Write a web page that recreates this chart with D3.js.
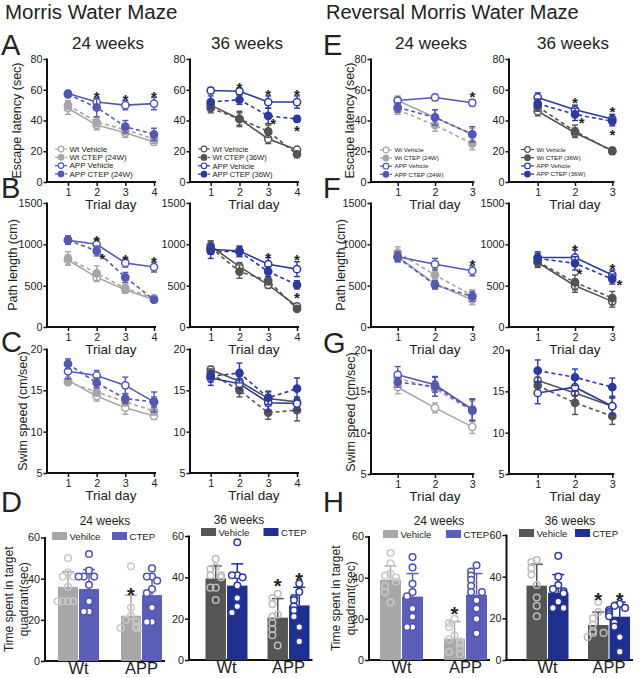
<!DOCTYPE html>
<html><head><meta charset="utf-8">
<script src="https://cdn.jsdelivr.net/npm/d3@7"></script>
<style>
body{margin:0;background:#fff}
svg{display:block}
text{font-family:"Liberation Sans",Arial,Helvetica,sans-serif;fill:#222}
</style>
</head><body>
<svg id="chart" width="641" height="678"></svg>
<script>
// ---------------- DATA ----------------
const days4 = [1, 2, 3, 4];
const days3 = [1, 2, 3];
const names24 = ["Wt Vehicle", "Wt CTEP (24W)", "APP Vehicle", "APP CTEP (24W)"];
const names36 = ["Wt Vehicle", "Wt CTEP (36W)", "APP Vehicle", "APP CTEP (36W)"];
const latencyTicks = [0, 20, 40, 60, 80];
const pathTicks = [0, 500, 1000, 1500];
const speedTicks = [5, 10, 15, 20];
const quadrantTicks = [0, 20, 40, 60];

// series order: Wt Vehicle, Wt CTEP, APP Vehicle, APP CTEP
const latency24Mean = [[48, 37, 32, 26], [50, 39, 34, 28], [57.5, 52, 50, 51], [57, 48.5, 36, 31]];
const latency24Err  = [[4, 3, 3, 2], [3, 3, 3, 3], [2, 3, 3, 4], [2, 6, 4, 4]];
const latency36Mean = [[50, 41, 28, 21], [48, 41, 33, 18], [59.5, 59, 52, 52], [52, 53.5, 43, 41]];
const latency36Err  = [[3, 4, 3, 1], [3, 5, 4, 2], [2, 2, 4, 4], [4, 3, 5, 2]];
const revLatency24Mean = [[53, 42, 31], [47, 37, 25], [53, 55, 51.5], [48.5, 42, 31]];
const revLatency24Err  = [[3, 5, 4], [3, 4, 4], [2, 2, 2], [3, 5, 5]];
const revLatency36Mean = [[46, 32, 20.5], [49, 33, 20], [55, 47, 41], [51, 44, 39.5]];
const revLatency36Err  = [[3, 3, 2], [3, 4, 2], [3, 3, 3], [3, 4, 3]];

const path24Mean = [[810, 600, 450, 330], [830, 650, 470, 350], [1050, 1000, 775, 725], [1050, 920, 600, 330]];
const path24Err  = [[60, 50, 40, 30], [80, 90, 50, 30], [50, 60, 50, 60], [50, 60, 60, 30]];
const path36Mean = [[980, 730, 510, 250], [960, 670, 560, 220], [940, 920, 760, 700], [920, 910, 670, 510]];
const path36Err  = [[60, 50, 40, 30], [80, 80, 50, 30], [60, 60, 80, 90], [90, 60, 60, 50]];
const revPath24Mean = [[850, 520, 330], [900, 630, 380], [850, 760, 680], [840, 510, 370]];
const revPath24Err  = [[60, 60, 60], [70, 80, 70], [60, 70, 60], [50, 50, 60]];
const revPath36Mean = [[780, 500, 310], [790, 540, 350], [840, 840, 630], [830, 770, 580]];
const revPath36Err  = [[60, 80, 70], [60, 90, 80], [70, 90, 60], [60, 80, 60]];

const speed24Mean = [[16.2, 14.3, 12.9, 11.9], [16.0, 14.8, 13.6, 12.5], [17.3, 16.8, 15.6, 13.6], [18.2, 15.9, 14.0, 13.6]];
const speed24Err  = [[0.4, 0.6, 0.8, 0.4], [0.4, 0.5, 0.5, 0.5], [0.9, 0.6, 1.0, 1.2], [0.6, 0.6, 0.6, 0.6]];
const speed36Mean = [[17.5, 16.1, 14.0, 13.6], [17.0, 15.0, 12.3, 12.6], [16.5, 15.8, 13.5, 13.4], [16.7, 17.1, 14.1, 15.2]];
const speed36Err  = [[0.4, 0.6, 0.8, 0.5], [0.6, 0.8, 0.8, 1.3], [0.9, 0.6, 1.0, 0.8], [0.7, 1.2, 0.8, 1.3]];
const revSpeed24Mean = [[15.5, 13.0, 10.7], [16.6, 15.3, 12.6], [17.0, 15.8, 12.8], [16.1, 15.6, 12.7]];
const revSpeed24Err  = [[0.8, 0.6, 0.8], [0.8, 0.9, 1.2], [1.0, 0.9, 1.3], [0.6, 1.2, 1.3]];
const revSpeed36Mean = [[16.3, 14.8, 13.2], [15.7, 13.6, 12.0], [14.8, 15.5, 13.2], [17.5, 16.7, 15.5]];
const revSpeed36Err  = [[0.9, 1.0, 1.0], [1.0, 1.4, 1.0], [1.3, 1.0, 1.0], [1.3, 1.0, 1.1]];

// significance stars: [trial day, value]
const latency24Stars = [[2, 58], [3, 55.5], [4, 58]];
const latency36Stars = [[2, 63.5], [3, 58.7], [3.17, 39.9], [4, 58.7], [4, 35.6]];
const revLatency24Stars = [[3, 57.7]];
const revLatency36Stars = [[2, 54], [2.18, 41], [3, 48], [3, 33.2]];
const path24Stars = [[2, 1089], [2.2, 871], [3, 859], [4, 831]];
const path36Stars = [[3, 879], [4, 850], [4, 400]];
const revPath24Stars = [[3, 790]];
const revPath36Stars = [[2, 971], [2.12, 690], [3, 741], [3.19, 556]];

// probe trial bars (group x treatment)
const groups = ["Wt", "APP"];
const treatments = ["Vehicle", "CTEP"];
const probe24Mean = [[36, 35], [22, 32]];
const probe24Sd = [[7.4, 9.4], [10, 8.6]];
const probe24Points = [
  [[50, 43, 41, 41, 36, 29, 29, 29, 29], [52, 44, 41, 41, 41, 37, 29, 24, 24]],
  [[46, 26, 22, 20, 19, 17, 16, 16, 16], [45, 41, 41, 39, 35, 33, 26, 19, 19]]
];
const probe36Mean = [[39.5, 36], [20.5, 26.4]];
const probe36Sd = [[6, 10.5], [9.2, 8.8]];
const probe36Points = [
  [[49, 45, 44, 41, 41, 40, 35, 35, 29], [57, 41, 41, 40, 36, 30, 26, 23]],
  [[32, 30, 27, 22, 21, 18, 15, 12, 7], [37, 33, 30, 29, 26, 24, 21, 16, 9]]
];
const revProbe24Mean = [[39, 30.8], [10.4, 31.7]];
const revProbe24Sd = [[6.7, 11.2], [8.2, 10.3]];
const revProbe24Points = [
  [[52, 47, 42, 41, 40, 38, 36, 33, 28], [50, 45, 37, 33, 31, 25, 21, 16, 16]],
  [[20, 18, 16, 12, 10, 9, 8, 6, 4, 3], [46, 43, 41, 39, 36, 33, 33, 29, 25, 20, 13]]
];
const revProbe36Mean = [[35.7, 32.3], [16.8, 20.8]];
const revProbe36Sd = [[10.3, 8.7], [6.2, 6.9]];
const revProbe36Points = [
  [[48, 47, 44, 41, 36, 30, 26, 21], [50, 40, 36, 34, 33, 32, 28, 25, 25]],
  [[28, 23, 20, 17, 14, 13, 13, 11], [27, 26, 25, 24, 23, 22, 21, 18, 16, 11, 4]]
];
// [group index, treatment index, value]
const probe24Stars = [[1, 0, 34.5]];
const probe36Stars = [[1, 0, 38], [1, 1, 41]];
const revProbe24Stars = [[1, 0, 24.5]];
const revProbe36Stars = [[1, 0, 31], [1, 1, 31]];

// ---------------- STYLE ----------------
const gray24 = "#a6a6a6", blue24 = "#5358b2", gray36 = "#545454", blue36 = "#2b3a9e";
const colors24 = [gray24, gray24, blue24, blue24];
const colors36 = [gray36, gray36, blue36, blue36];
const isFilled = [false, true, false, true];
const barColors24 = ["#a7a7a9", "#5a5eb6"];
const barColors36 = ["#555555", "#1f2f8f"];
const dotStroke24 = ["#c8c8c8", "#4e53b0"];
const dotStroke36 = ["#bdbdbd", "#2b3a9e"];

const svg = d3.select("#chart");

function txt(x, y, s, size, opts = {}) {
  const t = svg.append("text").attr("x", x).attr("y", y).attr("font-size", size).text(s);
  if (opts.anchor) t.attr("text-anchor", opts.anchor);
  if (opts.weight) t.attr("font-weight", opts.weight);
  if (opts.rotate) t.attr("transform", `rotate(-90,${x},${y})`);
  return t;
}

function styleAxis(g) {
  g.select(".domain").remove();
  g.selectAll(".tick line").attr("stroke", "#111").attr("stroke-width", 1.5);
  g.selectAll(".tick text").attr("fill", "#222").attr("font-size", 10.8)
    .attr("font-family", '"Liberation Sans",Arial,sans-serif');
}

function star(x, y, size) {
  svg.append("text").attr("x", x).attr("y", y + size * 0.58).attr("text-anchor", "middle")
    .attr("font-size", size).attr("font-weight", "bold").attr("fill", "#111").text("*");
}

function linePanel(p) {
  const x = d3.scaleLinear().domain([1, p.days.length]).range(p.xr);
  const y = d3.scaleLinear().domain([p.ticks[0], p.ticks[p.ticks.length - 1]]).range(p.yr);
  const g = svg.append("g");
  const ya = g.append("g").attr("transform", `translate(${p.ax},0)`)
    .call(d3.axisLeft(y).tickValues(p.ticks).tickSize(3.5).tickPadding(1).tickFormat(d3.format("d")));
  styleAxis(ya);
  const xa = g.append("g").attr("transform", `translate(0,${p.yr[0]})`)
    .call(d3.axisBottom(x).tickValues(p.days).tickSize(4).tickPadding(2).tickFormat(d3.format("d")));
  styleAxis(xa);
  g.append("line").attr("x1", p.ax).attr("x2", p.ax).attr("y1", p.yr[0]).attr("y2", p.yr[1] - 0.5)
    .attr("stroke", "#111").attr("stroke-width", 2);
  g.append("line").attr("x1", p.ax - 1).attr("x2", x(p.days.length) + 2).attr("y1", p.yr[0]).attr("y2", p.yr[0])
    .attr("stroke", "#111").attr("stroke-width", 2);
  const line = d3.line().x((d, i) => x(p.days[i])).y(d => y(d));
  p.means.forEach((m, s) => {
    const c = p.colors[s];
    g.append("path").attr("d", line(m)).attr("fill", "none").attr("stroke", c).attr("stroke-width", 1.6)
      .attr("stroke-dasharray", isFilled[s] ? "4,3" : null);
    m.forEach((v, i) => {
      const e = p.errs[s][i], cx = x(p.days[i]);
      g.append("line").attr("x1", cx).attr("x2", cx).attr("y1", y(v - e)).attr("y2", y(v + e)).attr("stroke", c).attr("stroke-width", 1.4);
      [v - e, v + e].forEach(w => g.append("line").attr("x1", cx - 3).attr("x2", cx + 3).attr("y1", y(w)).attr("y2", y(w)).attr("stroke", c).attr("stroke-width", 1.4));
    });
    m.forEach((v, i) => {
      g.append("circle").attr("cx", x(p.days[i])).attr("cy", y(v)).attr("r", 3.6)
        .attr("fill", isFilled[s] ? c : "#fff").attr("stroke", c).attr("stroke-width", 1.5);
    });
  });
  (p.stars || []).forEach(st => star(x(st[0]), y(st[1]), 15));
  if (p.ylabel) txt(p.ylx, (p.yr[0] + p.yr[1]) / 2, p.ylabel, 12.5, { anchor: "middle", rotate: true });
  txt((p.xr[0] + p.xr[1]) / 2, p.yr[0] + 27, "Trial day", 13.5, { anchor: "middle" });
  if (p.legend) {
    const L = p.legend;
    p.names.forEach((n, s) => {
      const yy = L.y + s * L.dy, c = p.colors[s];
      g.append("line").attr("x1", L.x).attr("x2", L.x + L.w).attr("y1", yy).attr("y2", yy)
        .attr("stroke", c).attr("stroke-width", 1.2).attr("stroke-dasharray", isFilled[s] ? "3,2" : null);
      g.append("circle").attr("cx", L.x + L.w / 2).attr("cy", yy).attr("r", 2.8)
        .attr("fill", isFilled[s] ? c : "#fff").attr("stroke", c).attr("stroke-width", 1.2);
      txt(L.x + L.w + 2.5, yy + L.fs * 0.36, n, L.fs);
    });
  }
}

function barPanel(p) {
  const y = d3.scaleLinear().domain([0, 60]).range([p.yb, p.yt]);
  const pi = 1 - p.w / p.step;
  const x = d3.scaleBand().domain(groups).range([p.c1 - p.step / 2, p.c1 + p.step * 1.5])
    .paddingInner(pi).paddingOuter(pi / 2);
  const xs = d3.scaleBand().domain(treatments).range([0, x.bandwidth()]).paddingInner(0.05);
  const g = svg.append("g");
  const ya = g.append("g").attr("transform", `translate(${p.ax},0)`)
    .call(d3.axisLeft(y).tickValues(quadrantTicks).tickSize(4).tickPadding(1));
  styleAxis(ya);
  g.append("line").attr("x1", p.ax).attr("x2", p.ax).attr("y1", p.yb).attr("y2", p.yt - 0.5).attr("stroke", "#111").attr("stroke-width", 2);
  g.append("line").attr("x1", p.ax - 1).attr("x2", x("APP") + x.bandwidth() + 3).attr("y1", p.yb).attr("y2", p.yb).attr("stroke", "#111").attr("stroke-width", 2);
  groups.forEach((gr, gi) => {
    treatments.forEach((tr, ti) => {
      const bx = x(gr) + xs(tr), bw = xs.bandwidth(), m = p.mean[gi][ti], sd = p.sd[gi][ti];
      const col = p.barColors[ti];
      g.append("rect").attr("x", bx).attr("y", y(m)).attr("width", bw).attr("height", y(0) - y(m)).attr("fill", col);
      const cx = bx + bw / 2;
      g.append("line").attr("x1", cx).attr("x2", cx).attr("y1", y(m)).attr("y2", y(m + sd)).attr("stroke", col).attr("stroke-width", 1.5);
      g.append("line").attr("x1", cx - 6).attr("x2", cx + 6).attr("y1", y(m + sd)).attr("y2", y(m + sd)).attr("stroke", col).attr("stroke-width", 1.5);
      const placed = [];
      p.points[gi][ti].forEach(v => {
        const near = placed.filter(q => Math.abs(q - v) < 3.2).length;
        placed.push(v);
        const off = [0, -1, 1, -2, 2][near % 5] * bw * 0.26;
        g.append("circle").attr("cx", cx + off).attr("cy", y(v)).attr("r", 3.3)
          .attr("fill", ti === 1 ? "#fff" : "none").attr("stroke", p.dotStroke[ti]).attr("stroke-width", 1.5);
      });
    });
    txt(x(gr) + x.bandwidth() / 2, p.yb + 13, gr, 16.5, { anchor: "middle" });
  });
  p.stars.forEach(st => star(x(groups[st[0]]) + xs(treatments[st[1]]) + xs.bandwidth() / 2, y(st[2]), 20));
  txt(p.titleX, p.titleY, p.title, 12, { anchor: "middle" });
  treatments.forEach((tr, ti) => {
    g.append("rect").attr("x", p.lx[ti]).attr("y", p.ly - 4).attr("width", 15).attr("height", 8).attr("fill", p.barColors[ti]);
    txt(p.lx[ti] + 17.5, p.ly + 3.6, ti === 0 ? p.vehName : tr, 9.6);
  });
  if (p.ylabel) {
    const cy = (p.yb + p.yt) / 2;
    txt(p.ylx, cy, "Time spent in target", 12, { anchor: "middle", rotate: true });
    txt(p.ylx + 15, cy, "quadrant(sec)", 12, { anchor: "middle", rotate: true });
  }
}

// ---------------- TITLES ----------------
txt(5, 18.5, "Morris Water Maze", 20.5);
txt(326, 18.5, "Reversal Morris Water Maze", 20);
[["A", 1, 55], ["B", 1, 198], ["C", 1, 352], ["D", 1, 512], ["E", 323, 55], ["F", 323, 198], ["G", 323, 353], ["H", 323, 512]]
  .forEach(l => txt(l[1], l[2], l[0], 29));
txt(108, 49, "24 weeks", 17, { anchor: "middle" });
txt(247, 49, "36 weeks", 17, { anchor: "middle" });
txt(431, 49, "24 weeks", 17, { anchor: "middle" });
txt(573, 49, "36 weeks", 17, { anchor: "middle" });

const L4 = { ax: 47, xr: [68, 154] }, R4 = { ax: 190, xr: [210.7, 297] };
const L3 = { ax: 371, xr: [397.7, 472.3] }, R3 = { ax: 509, xr: [537.7, 612.3] };

// Row 1: escape latency
linePanel({ ...L4, yr: [182, 59], ticks: latencyTicks, days: days4, means: latency24Mean, errs: latency24Err, colors: colors24, names: names24, stars: latency24Stars, ylabel: "Escape latency (sec)", ylx: 21, legend: { x: 55, y: 149, dy: 8.3, w: 12, fs: 8 } });
linePanel({ ...R4, yr: [182, 59], ticks: latencyTicks, days: days4, means: latency36Mean, errs: latency36Err, colors: colors36, names: names36, stars: latency36Stars, legend: { x: 198, y: 149, dy: 8.4, w: 12, fs: 7.6 } });
linePanel({ ...L3, yr: [182, 59], ticks: latencyTicks, days: days3, means: revLatency24Mean, errs: revLatency24Err, colors: colors24, names: names24, stars: revLatency24Stars, ylabel: "Escape latency (sec)", ylx: 354, legend: { x: 380, y: 150, dy: 8.1, w: 12, fs: 6.2 } });
linePanel({ ...R3, yr: [182, 59], ticks: latencyTicks, days: days3, means: revLatency36Mean, errs: revLatency36Err, colors: colors36, names: names36, stars: revLatency36Stars, legend: { x: 521, y: 149.5, dy: 8.2, w: 13, fs: 6.2 } });

// Row 2: path length
linePanel({ ...L4, yr: [327, 203], ticks: pathTicks, days: days4, means: path24Mean, errs: path24Err, colors: colors24, stars: path24Stars, ylabel: "Path length (cm)", ylx: 17 });
linePanel({ ...R4, yr: [327, 203], ticks: pathTicks, days: days4, means: path36Mean, errs: path36Err, colors: colors36, stars: path36Stars });
linePanel({ ...L3, yr: [327, 203], ticks: pathTicks, days: days3, means: revPath24Mean, errs: revPath24Err, colors: colors24, stars: revPath24Stars, ylabel: "Path length (cm)", ylx: 345 });
linePanel({ ...R3, yr: [327, 203], ticks: pathTicks, days: days3, means: revPath36Mean, errs: revPath36Err, colors: colors36, stars: revPath36Stars });

// Row 3: swim speed
linePanel({ ...L4, yr: [473, 349], ticks: speedTicks, days: days4, means: speed24Mean, errs: speed24Err, colors: colors24, ylabel: "Swim speed (cm/sec)", ylx: 27 });
linePanel({ ...R4, yr: [473, 349], ticks: speedTicks, days: days4, means: speed36Mean, errs: speed36Err, colors: colors36 });
linePanel({ ...L3, yr: [474, 350], ticks: speedTicks, days: days3, means: revSpeed24Mean, errs: revSpeed24Err, colors: colors24, ylabel: "Swim speed (cm/sec)", ylx: 355 });
linePanel({ ...R3, yr: [474, 350], ticks: speedTicks, days: days3, means: revSpeed36Mean, errs: revSpeed36Err, colors: colors36 });

// Row 4: probe bars
barPanel({ ax: 45, yb: 661, yt: 537.5, c1: 78.5, step: 63, w: 41, mean: probe24Mean, sd: probe24Sd, points: probe24Points, stars: probe24Stars, barColors: barColors24, dotStroke: dotStroke24, title: "24 weeks", titleX: 105, titleY: 525, lx: [52, 112], ly: 536, vehName: "Vehilce", ylabel: true, ylx: 13 });
barPanel({ ax: 189, yb: 660, yt: 536, c1: 226.5, step: 62, w: 42, mean: probe36Mean, sd: probe36Sd, points: probe36Points, stars: probe36Stars, barColors: barColors36, dotStroke: dotStroke36, title: "36 weeks", titleX: 239, titleY: 524, lx: [201, 263.5], ly: 532, vehName: "Vehicle" });
barPanel({ ax: 369, yb: 660, yt: 536.5, c1: 401.5, step: 64, w: 43, mean: revProbe24Mean, sd: revProbe24Sd, points: revProbe24Points, stars: revProbe24Stars, barColors: barColors24, dotStroke: dotStroke24, title: "24 weeks", titleX: 439, titleY: 525, lx: [383, 446], ly: 534, vehName: "Vehicle", ylabel: true, ylx: 340 });
barPanel({ ax: 506.5, yb: 660, yt: 535, c1: 547.5, step: 61.5, w: 42, mean: revProbe36Mean, sd: revProbe36Sd, points: revProbe36Points, stars: revProbe36Stars, barColors: barColors36, dotStroke: dotStroke36, title: "36 weeks", titleX: 570, titleY: 525, lx: [519, 575], ly: 533, vehName: "Vehicle" });
</script>
</body></html>
